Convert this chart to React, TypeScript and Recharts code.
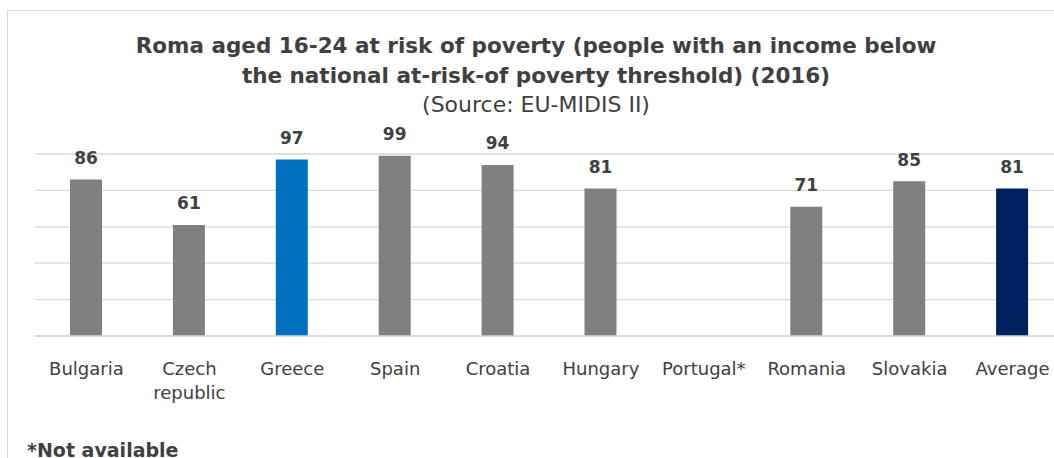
import { Bar, BarChart, CartesianGrid, LabelList, XAxis, YAxis, Cell } from 'recharts'

const countries = [
  'Bulgaria',
  'Czech republic',
  'Greece',
  'Spain',
  'Croatia',
  'Hungary',
  'Portugal*',
  'Romania',
  'Slovakia',
  'Average',
]

// share of Roma aged 16-24 at risk of poverty, % (Portugal not available)
const atRiskShare: (number | null)[] = [86, 61, 97, 99, 94, 81, null, 71, 85, 81]

const yTicks = [0, 20, 40, 60, 80, 100]

const highlight: Record<string, string> = {
  Greece: '#0070c0',
  Average: '#002060',
}

const data = countries.map((name, i) => ({ name, value: atRiskShare[i] }))

const FONT = '"DejaVu Sans", Verdana, sans-serif'
const TEXT = '#404040'

function CategoryTick({ x, y, payload }: any) {
  const words = String(payload.value).split(' ')
  return (
    <text x={x} y={y} textAnchor="middle" fill={TEXT} fontSize={18} fontFamily={FONT}>
      {words.map((w, i) => (
        <tspan key={i} x={x} dy={i === 0 ? 37 : 24}>
          {w}
        </tspan>
      ))}
    </text>
  )
}

function ValueLabel({ x, y, width, value }: any) {
  if (value == null) return null
  return (
    <text
      x={Number(x) + Number(width) / 2}
      y={Number(y) - 15.5}
      textAnchor="middle"
      fill={TEXT}
      fontSize={17}
      fontWeight="bold"
      fontFamily={FONT}
    >
      {value}
    </text>
  )
}

export default function App() {
  return (
    <div
      style={{
        position: 'fixed',
        left: 0,
        top: 0,
        width: 1054,
        height: 458,
        overflow: 'hidden',
        background: '#fff',
      }}
    >
      <div
        style={{
          position: 'absolute',
          left: 7,
          top: 10,
          width: 1100,
          height: 500,
          border: '1px solid #d9d9d9',
          boxSizing: 'border-box',
        }}
      />
      <div style={{ position: 'absolute', left: 0, top: 0 }}>
        <BarChart
          width={1090}
          height={458}
          data={data}
          margin={{ top: 154, right: 26, left: 35, bottom: 0 }}
          barSize={32}
        >
          <CartesianGrid vertical={false} stroke="#d9d9d9" strokeWidth={1.3} />
          <YAxis hide domain={[0, 100]} ticks={yTicks} />
          <XAxis
            dataKey="name"
            height={122}
            axisLine={{ stroke: '#d9d9d9', strokeWidth: 1.3 }}
            tickLine={false}
            tickSize={0}
            interval={0}
            tick={<CategoryTick />}
          />
          <Bar dataKey="value" fill="#808080" isAnimationActive={false}>
            {data.map((d) => (
              <Cell key={d.name} fill={highlight[d.name] ?? '#808080'} />
            ))}
            <LabelList dataKey="value" content={<ValueLabel />} />
          </Bar>
        </BarChart>
      </div>
      <svg
        width={1054}
        height={458}
        style={{ position: 'absolute', left: 0, top: 0, pointerEvents: 'none' }}
      >
        <text x={536} y={53.3} textAnchor="middle" fill={TEXT} fontSize={21.5} fontWeight="bold" fontFamily={FONT}>
          Roma aged 16-24 at risk of poverty (people with an income below
        </text>
        <text x={536} y={83.3} textAnchor="middle" fill={TEXT} fontSize={21.5} fontWeight="bold" fontFamily={FONT}>
          the national at-risk-of poverty threshold) (2016)
        </text>
        <text x={536} y={112} textAnchor="middle" fill={TEXT} fontSize={22} fontFamily={FONT}>
          (Source: EU-MIDIS II)
        </text>
        <text x={27} y={457} fill={TEXT} fontSize={19} fontWeight="bold" fontFamily={FONT}>
          *Not available
        </text>
      </svg>
    </div>
  )
}
